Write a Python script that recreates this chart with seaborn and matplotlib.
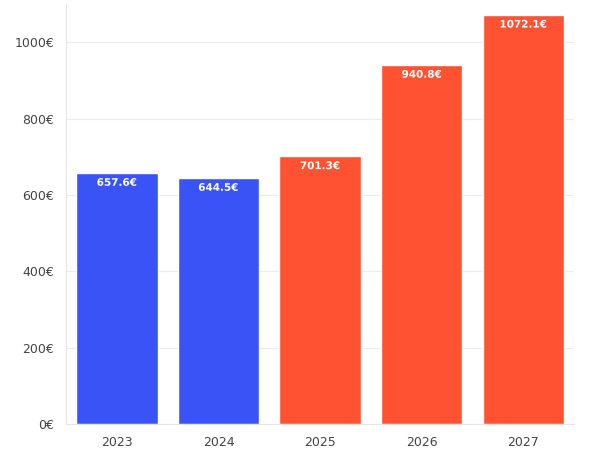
import numpy as np
import pandas as pd
import matplotlib
matplotlib.use('Agg')
import matplotlib.pyplot as plt
import matplotlib.patheffects as pe
import seaborn as sns

# Data
years = ['2023', '2024', '2025', '2026', '2027']
values = [657.6, 644.5, 701.3, 940.8, 1072.1]
kinds = ['actual', 'actual', 'forecast', 'forecast', 'forecast']

blue = '#3a53f6'
red = '#ff5232'
palette = {'actual': blue, 'forecast': red}

df = pd.DataFrame({'year': years, 'value': values, 'kind': kinds})

sns.set_style('white')
plt.rcParams['font.family'] = ['DejaVu Sans']

fig = plt.figure(figsize=(6.12, 4.63), dpi=100)
ax = fig.add_axes([0.108, 0.084, 0.83, 0.907])

sns.barplot(data=df, x='year', y='value', hue='kind', palette=palette,
            dodge=False, width=0.8, saturation=1, legend=False, ax=ax)

ax.set_ylim(0, 1100)
ax.set_xlim(-0.5, 4.5)
ax.set_yticks([0, 200, 400, 600, 800, 1000])
ax.set_yticklabels([f'{t}€' for t in [0, 200, 400, 600, 800, 1000]])
ax.yaxis.grid(True, color='#ececec', linewidth=0.8)
ax.set_axisbelow(True)
ax.set_xlabel('')
ax.set_ylabel('')

for s in ['top', 'right']:
    ax.spines[s].set_visible(False)
for s in ['left', 'bottom']:
    ax.spines[s].set_color('#e6e6e6')
    ax.spines[s].set_linewidth(0.8)

ax.tick_params(axis='both', colors='#e0e0e0', labelcolor='#444444',
               labelsize=9, length=5, width=0.8)

for i, (v, k) in enumerate(zip(values, kinds)):
    ax.annotate(f'{v}€', xy=(i, v), xytext=(0, -7), textcoords='offset points',
                ha='center', va='center', color='white', fontsize=7.5,
                fontweight='bold',
                path_effects=[pe.withStroke(linewidth=2, foreground=palette[k])])

fig.savefig('out.png', dpi=100)
